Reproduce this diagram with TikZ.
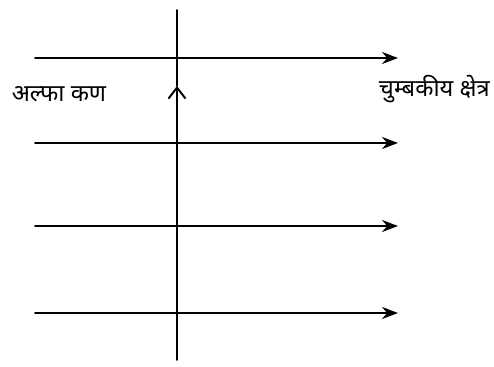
\documentclass[tikz,border=0pt]{standalone}
\usepackage{fontspec}
\newfontfamily\devfont[Script=Devanagari]{Noto Sans}
\usetikzlibrary{arrows.meta}
\begin{document}
\begin{tikzpicture}[line join=round, line cap=round, font=\devfont\fontsize{13.5}{16}\selectfont,
	field/.style={line width=1.1pt, -{Stealth[length=3.2mm,width=2.4mm]}},
	path/.style={line width=1.1pt}]
	\def\xmin{0.7}
	\def\xmax{7.96}
	\def\xv{3.54}
	\useasboundingbox (0,0) rectangle (9.88,7.34);
	% magnetic field lines
	\foreach \y/\n in {6.18/1,4.48/2,2.82/3,1.08/4}{
		\coordinate (s\n) at (\xmin,\y);
		\coordinate (e\n) at (\xmax,\y);
		\draw[field] (s\n)--(e\n);
	}
	% path of the alpha particle
	\coordinate (bot) at (\xv,0.14);
	\coordinate (mid) at (\xv,5.62);
	\coordinate (top) at (\xv,7.14);
	\draw[path,-{Straight Barb[length=2.2mm,width=3.4mm]}] (bot)--(mid);
	\draw[path] (mid)--(top);
	\node (alpha) at (1.18,5.45) {अल्फा कण};
	\node[anchor=east, inner sep=0pt] (field) at (9.8,5.55) {चुम्बकीय क्षेत्र};
\end{tikzpicture}
\end{document}
